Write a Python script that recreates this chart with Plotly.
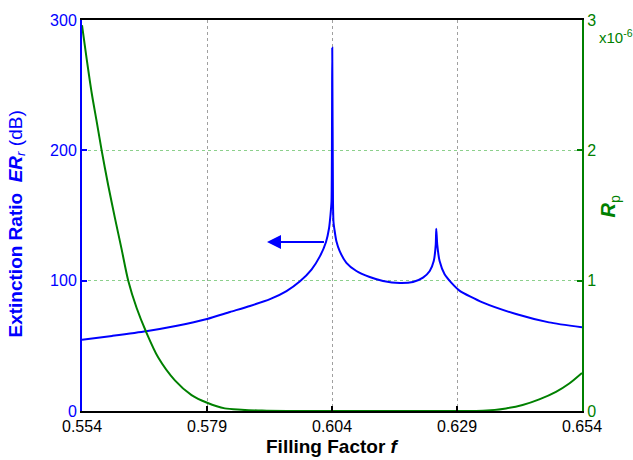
import plotly.graph_objects as go

# Extinction ratio ER_r (dB) versus filling factor f
f_er = [0.554, 0.560, 0.5668, 0.573, 0.579, 0.5836, 0.5876, 0.5916, 0.5949,
        0.5976, 0.5999, 0.6016, 0.6028, 0.6034, 0.6037, 0.6039,
        0.60405, 0.6042, 0.6043, 0.60454, 0.60488, 0.60554, 0.60688,
        0.60888, 0.61154, 0.61421, 0.61754, 0.6202, 0.6222, 0.62355, 0.62435,
        0.62475, 0.62485, 0.62505, 0.62552, 0.62652, 0.62785, 0.62955, 0.6341,
        0.6408, 0.6474, 0.654]
er_db = [54.6, 57.6, 61.2, 65.4, 70.6, 76.0, 80.6, 85.8, 92.0,
         99.5, 108.5, 118.8, 129.7, 140.0, 150.6, 160.7,
         278.7, 160.0, 145.0, 137.9, 130.2, 122.6, 113.7,
         107.4, 102.8, 99.8, 98.2, 99.0, 102.3, 107.4, 115.0,
         127.7, 139.9, 127.7, 115.0, 104.9, 98.5, 92.2, 83.3,
         74.4, 68.0, 64.2]

# Reflectance R_p (in units of 1e-6) versus filling factor f
f_rp = [0.554, 0.55494, 0.55594, 0.55694, 0.55793, 0.55925, 0.56059, 0.56193,
        0.56325, 0.56493, 0.56679, 0.56925, 0.57258, 0.57591, 0.57903, 0.58256,
        0.5859, 0.590, 0.595, 0.600, 0.610, 0.620, 0.6288, 0.63417, 0.6388,
        0.64212, 0.64545, 0.64879, 0.65145, 0.654]
rp_1e6 = [2.96, 2.70, 2.44, 2.22, 2.00, 1.73, 1.48, 1.24,
          1.00, 0.79, 0.61, 0.41, 0.235, 0.122, 0.063, 0.02,
          0.01, 0.003, 0.0, 0.0, 0.0, 0.0, 0.0, 0.002, 0.02,
          0.046, 0.089, 0.147, 0.211, 0.292]

x_ticks = [0.554, 0.579, 0.604, 0.629, 0.654]
x_ticktext = ["0.554", "0.579", "0.604", "0.629", "0.654"]
er_ticks = [0, 100, 200, 300]
rp_ticks = [0, 1, 2, 3]

# arrow pointing from the main resonance toward the left-hand axis
arrow_tail = (0.6027, 129.7)
arrow_tip = (0.5910, 129.7)

BLUE = "#0000ff"
GREEN = "#008000"
FONT = "Liberation Sans, Arial, sans-serif"

fig = go.Figure()
fig.add_trace(go.Scatter(x=f_er, y=er_db, mode="lines",
                         line=dict(color=BLUE, width=2, shape="spline",
                                   smoothing=0.6),
                         yaxis="y", showlegend=False))
fig.add_trace(go.Scatter(x=f_rp, y=rp_1e6, mode="lines",
                         line=dict(color=GREEN, width=2, shape="spline",
                                   smoothing=0.8),
                         yaxis="y2", showlegend=False))

fig.update_layout(
    width=633, height=460,
    margin=dict(l=82, r=51, t=17, b=49),
    paper_bgcolor="white", plot_bgcolor="white",
    font=dict(family=FONT, size=16, color="black"),
    xaxis=dict(range=[0.554, 0.654], tickvals=x_ticks, ticktext=x_ticktext,
               ticks="inside", ticklen=5, tickwidth=1.5, tickcolor="black",
               showline=True, linecolor="black", linewidth=2, mirror=True,
               showgrid=True, gridcolor="#a0a0a0", griddash="dot", gridwidth=1,
               zeroline=False, tickfont=dict(size=16, color="black")),
    yaxis=dict(range=[0, 300], tickvals=er_ticks, ticks="inside", ticklen=5,
               tickwidth=1.5, tickcolor=BLUE, showline=True, linecolor=BLUE,
               linewidth=2, showgrid=True, gridcolor="rgba(0,150,0,0.45)",
               griddash="dot", gridwidth=1, zeroline=False,
               tickfont=dict(size=16, color=BLUE)),
    yaxis2=dict(range=[0, 3], tickvals=rp_ticks, overlaying="y", side="right",
                ticks="inside", ticklen=5, tickwidth=1.5, tickcolor=GREEN,
                showline=True, linecolor=GREEN, linewidth=2, showgrid=False,
                zeroline=False, tickfont=dict(size=16, color=GREEN)),
    annotations=[
        dict(x=arrow_tip[0], y=arrow_tip[1], ax=arrow_tail[0], ay=arrow_tail[1],
             xref="x", yref="y", axref="x", ayref="y", text="",
             showarrow=True, arrowhead=2, arrowsize=1.4, arrowwidth=2,
             arrowcolor=BLUE),
        dict(text="<b>Filling Factor <i>f</i></b>", xref="paper", yref="paper",
             x=0.5, y=-0.092, xanchor="center", yanchor="middle",
             showarrow=False, font=dict(size=19, color="black")),
        dict(text="<b>Extinction Ratio  <i>ER</i></b><sub><i>r</i></sub> (dB)",
             xref="paper", yref="paper", x=-0.13, y=0.477, textangle=-90,
             xanchor="center", yanchor="middle", showarrow=False,
             font=dict(size=19, color=BLUE)),
        dict(text="<b><i>R</i></b><sub>p</sub>", xref="paper", yref="paper",
             x=1.056, y=0.523, textangle=-90, xanchor="center",
             yanchor="middle", showarrow=False,
             font=dict(size=20, color=GREEN)),
        dict(text="x10<sup>-6</sup>", xref="paper", yref="paper",
             x=1.03, y=0.958, xanchor="left", yanchor="middle",
             showarrow=False, font=dict(size=15, color=GREEN)),
    ],
)

fig.write_html("out.html")
